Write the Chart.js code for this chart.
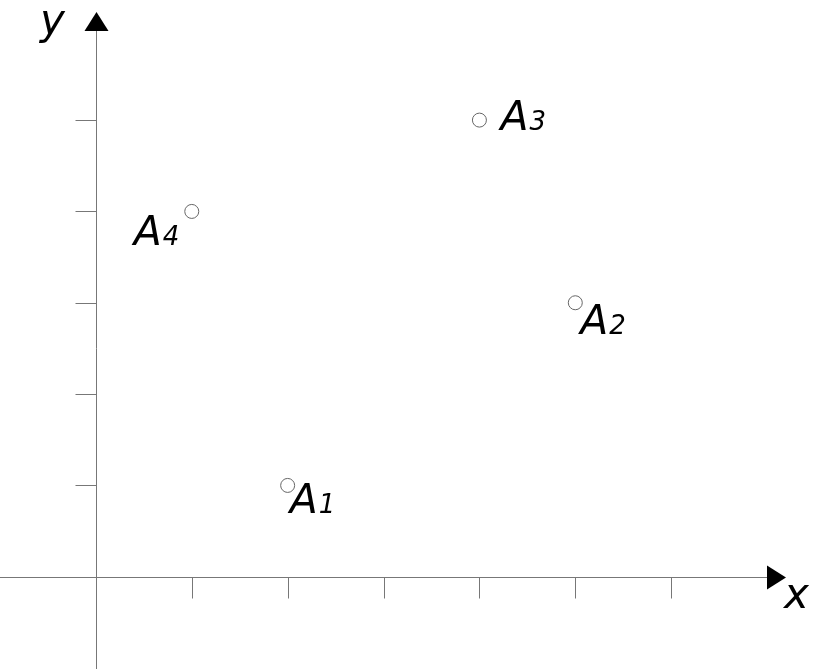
<!DOCTYPE html>
<html lang="en">
<head>
  <meta charset="UTF-8">
  <title>Points A1-A4</title>
  <script src="https://cdn.jsdelivr.net/npm/chart.js"></script>
  <style>
    * { margin: 0; padding: 0; box-sizing: border-box; }
    body { background: #fff; }
    .wrap { width: 815px; height: 669px; position: relative; }
  </style>
</head>
<body>
<div class="wrap"><canvas id="plot"></canvas></div>

<script>
  // data
  const pointNames = ['1', '2', '3', '4'];
  const xValues = [2, 5, 4, 1];
  const yValues = [1, 3, 5, 4];
  const xTicks = [1, 2, 3, 4, 5, 6];
  const yTicks = [1, 2, 3, 4, 5];

  // label placement next to each point, in pixels (dx, dy of the "A" baseline)
  const labelOffsets = [[2, 28], [5, 31], [21, 10], [-58, 34]];

  const axisColor = '#777';
  const font = '"DejaVu Sans", Verdana, sans-serif';

  const axesPlugin = {
    id: 'axes',
    beforeDatasetsDraw(chart) {
      const { ctx, scales: { x, y }, width, height } = chart;
      const ox = Math.round(x.getPixelForValue(0)) + 0.5;
      const oy = Math.round(y.getPixelForValue(0)) + 0.5;
      ctx.save();
      ctx.strokeStyle = axisColor;
      ctx.lineWidth = 1;
      ctx.beginPath();
      // x axis
      ctx.moveTo(0, oy); ctx.lineTo(770, oy);
      // y axis
      ctx.moveTo(ox, height); ctx.lineTo(ox, 28);
      // ticks
      xTicks.forEach(v => {
        const px = Math.round(x.getPixelForValue(v)) + 0.5;
        ctx.moveTo(px, oy); ctx.lineTo(px, oy + 21);
      });
      yTicks.forEach(v => {
        const py = Math.round(y.getPixelForValue(v)) + 0.5;
        ctx.moveTo(ox, py); ctx.lineTo(ox - 21, py);
      });
      ctx.stroke();

      // arrow heads
      ctx.fillStyle = '#000';
      ctx.beginPath();
      ctx.moveTo(ox, 12); ctx.lineTo(ox - 12, 31); ctx.lineTo(ox + 12, 31); ctx.closePath();
      ctx.fill();
      ctx.beginPath();
      ctx.moveTo(786, oy); ctx.lineTo(767, oy - 12); ctx.lineTo(767, oy + 12); ctx.closePath();
      ctx.fill();

      // axis names
      ctx.font = 'oblique 42px ' + font;
      ctx.textBaseline = 'alphabetic';
      ctx.fillText('y', 40, 34);
      ctx.fillText('x', 784, 608);
      ctx.restore();
    },
    afterDatasetsDraw(chart) {
      const { ctx, scales: { x, y } } = chart;
      ctx.save();
      ctx.fillStyle = '#000';
      pointNames.forEach((n, i) => {
        const px = x.getPixelForValue(xValues[i]) + labelOffsets[i][0];
        const py = y.getPixelForValue(yValues[i]) + labelOffsets[i][1];
        ctx.font = 'oblique 41px ' + font;
        ctx.fillText('A', px, py);
        const w = ctx.measureText('A').width;
        ctx.font = 'oblique 26px ' + font;
        ctx.fillText(n, px + w + 1, py);
      });
      ctx.restore();
    }
  };

  new Chart(document.getElementById('plot'), {
    type: 'scatter',
    data: {
      datasets: [{
        data: xValues.map((v, i) => ({ x: v, y: yValues[i] })),
        pointRadius: 7,
        pointBorderWidth: 1,
        pointBorderColor: '#666',
        pointBackgroundColor: '#fff'
      }]
    },
    options: {
      responsive: true,
      maintainAspectRatio: false,
      animation: false,
      layout: { padding: 0, autoPadding: false },
      plugins: { legend: { display: false }, tooltip: { enabled: false } },
      scales: {
        x: { type: 'linear', min: -1, max: 7.5, display: false },
        y: { type: 'linear', min: -1.01, max: 6.315, display: false }
      }
    },
    plugins: [axesPlugin]
  });
</script>
</body>
</html>
